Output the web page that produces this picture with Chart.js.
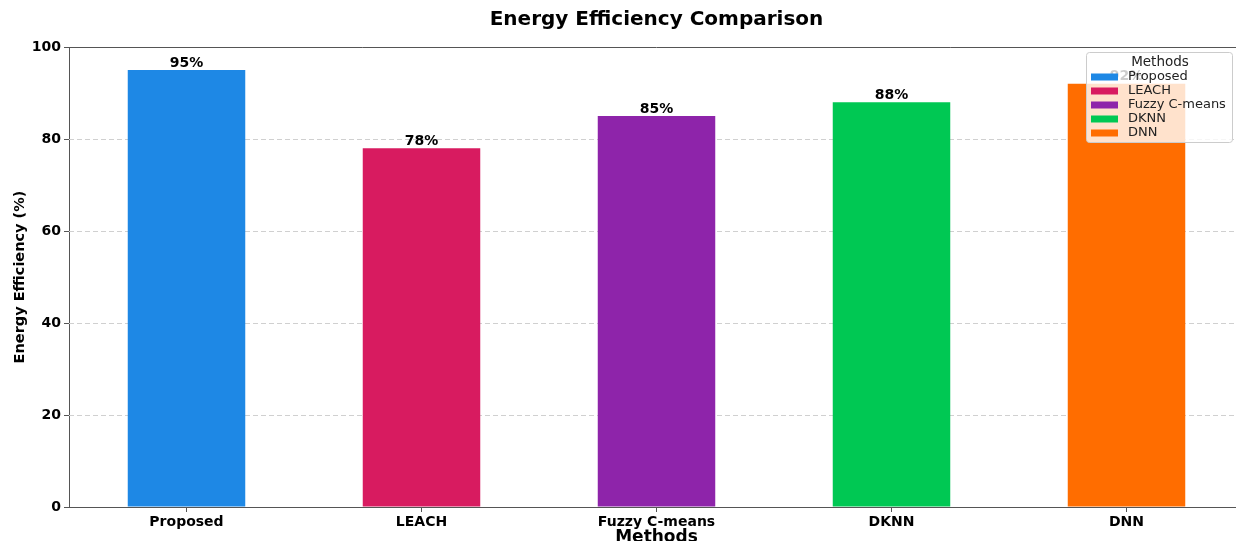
<!DOCTYPE html>
<html>
<head>
<meta charset="utf-8">
<script src="https://cdn.jsdelivr.net/npm/chart.js@4.4.1/dist/chart.umd.min.js"></script>
<style>
    html, body { margin: 0; padding: 0; background: #fff; overflow: hidden; }
    #wrap { width: 1250px; height: 546px; }
</style>
</head>
<body>
<div id="wrap"><canvas id="energyChart" width="1250" height="546"></canvas></div>
<script>
// chart data
const methods = ['Proposed', 'LEACH', 'Fuzzy C-means', 'DKNN', 'DNN'];
const efficiency = [95, 78, 85, 88, 92];
const barColors = ['#1E88E5', '#D81B60', '#8E24AA', '#00C853', '#FF6D00'];
const yTicks = [0, 20, 40, 60, 80, 100];

const FONT = "'DejaVu Sans', sans-serif";
const AXIS_COLOR = '#555';

// dashed horizontal grid + top spine
const gridPlugin = {
    id: 'grid',
    beforeDatasetsDraw(chart) {
        const { ctx, chartArea, scales } = chart;
        ctx.save();
        ctx.strokeStyle = '#d0d0d0';
        ctx.lineWidth = 1;
        ctx.setLineDash([5, 3]);
        yTicks.forEach(v => {
            if (v === 0 || v === 100) return;
            const y = Math.round(scales.y.getPixelForValue(v)) + 0.5;
            ctx.beginPath();
            ctx.moveTo(chartArea.left, y);
            ctx.lineTo(chartArea.right, y);
            ctx.stroke();
        });
        ctx.restore();
    },
    afterDatasetsDraw(chart) {
        const { ctx, chartArea } = chart;
        ctx.save();
        ctx.strokeStyle = AXIS_COLOR;
        ctx.lineWidth = 1;
        ctx.beginPath();
        ctx.moveTo(chartArea.left, chartArea.top + 0.5);
        ctx.lineTo(chartArea.right, chartArea.top + 0.5);
        ctx.stroke();
        ctx.restore();
    }
};

// "95%" labels above the bars
const valueLabels = {
    id: 'valueLabels',
    afterDatasetsDraw(chart) {
        const { ctx } = chart;
        const meta = chart.getDatasetMeta(0);
        ctx.save();
        ctx.font = `bold 14px ${FONT}`;
        ctx.fillStyle = '#000';
        ctx.textAlign = 'center';
        ctx.textBaseline = 'bottom';
        meta.data.forEach((bar, i) => {
            ctx.fillText(efficiency[i] + '%', bar.x, bar.y);
        });
        ctx.restore();
    }
};

// title centred over the plot area
const titlePlugin = {
    id: 'plotTitle',
    afterDraw(chart) {
        const { ctx, chartArea } = chart;
        ctx.save();
        ctx.font = `bold 20px ${FONT}`;
        ctx.fillStyle = '#000';
        ctx.textAlign = 'center';
        ctx.textBaseline = 'middle';
        ctx.fillText('Energy Efficiency Comparison', (chartArea.left + chartArea.right) / 2, 20);
        ctx.restore();
    }
};

// legend box inside the plot, upper right, semi-transparent
const legendBox = {
    id: 'legendBox',
    afterDraw(chart) {
        const { ctx, chartArea } = chart;
        const w = 146, h = 90;
        const x = chartArea.right - 12 - w;
        const y = chartArea.top + 5;
        ctx.save();
        ctx.beginPath();
        ctx.roundRect(x + 0.5, y + 0.5, w, h, 3);
        ctx.fillStyle = 'rgba(255,255,255,0.8)';
        ctx.fill();
        ctx.strokeStyle = '#cccccc';
        ctx.lineWidth = 1;
        ctx.stroke();

        ctx.fillStyle = '#222';
        ctx.font = `13.5px ${FONT}`;
        ctx.textBaseline = 'middle';
        ctx.textAlign = 'center';
        ctx.fillText('Methods', x + w / 2 + 1, y + 10);
        ctx.font = `13px ${FONT}`;
        ctx.textAlign = 'left';
        methods.forEach((m, i) => {
            const yc = y + 25 + i * 14;
            ctx.fillStyle = barColors[i];
            ctx.fillRect(x + 5, yc - 3.5, 27, 7);
            ctx.fillStyle = '#222';
            ctx.fillText(m, x + 42, yc);
        });
        ctx.restore();
    }
};

const ctx = document.getElementById('energyChart').getContext('2d');
new Chart(ctx, {
    type: 'bar',
    data: {
        labels: methods,
        datasets: [{
            label: 'Energy Efficiency',
            data: efficiency,
            backgroundColor: barColors,
            borderWidth: 0,
            barPercentage: 0.5,
            categoryPercentage: 1.0
        }]
    },
    options: {
        responsive: false,
        animation: false,
        devicePixelRatio: 1,
        layout: { padding: { top: 47, right: 6, bottom: 0, left: 0 } },
        plugins: {
            legend: { display: false },
            tooltip: { enabled: false },
            title: { display: false }
        },
        scales: {
            x: {
                afterFit(scale) { scale.height = 39; },
                ticks: {
                    color: '#000',
                    font: { family: FONT, size: 14, weight: 'bold' },
                    padding: 2,
                    maxRotation: 0
                },
                grid: {
                    offset: false,
                    drawOnChartArea: false,
                    tickLength: 5,
                    tickColor: AXIS_COLOR
                },
                border: { color: AXIS_COLOR },
                title: {
                    display: true,
                    text: 'Methods',
                    color: '#000',
                    font: { family: FONT, size: 17, weight: 'bold', lineHeight: 1 },
                    padding: 0
                }
            },
            y: {
                min: 0,
                max: 100,
                afterFit(scale) { scale.width = 69; },
                afterBuildTicks(scale) { scale.ticks = yTicks.map(v => ({ value: v })); },
                ticks: {
                    color: '#000',
                    font: { family: FONT, size: 14, weight: 'bold' },
                    padding: 3
                },
                grid: {
                    drawOnChartArea: false,
                    tickLength: 5,
                    tickColor: AXIS_COLOR
                },
                border: { color: AXIS_COLOR },
                title: {
                    display: true,
                    text: 'Energy Efficiency (%)',
                    color: '#000',
                    font: { family: FONT, size: 14.5, weight: 'bold', lineHeight: 1 },
                    padding: { top: 13, bottom: 0 }
                }
            }
        }
    },
    plugins: [gridPlugin, valueLabels, titlePlugin, legendBox]
});
</script>
</body>
</html>
